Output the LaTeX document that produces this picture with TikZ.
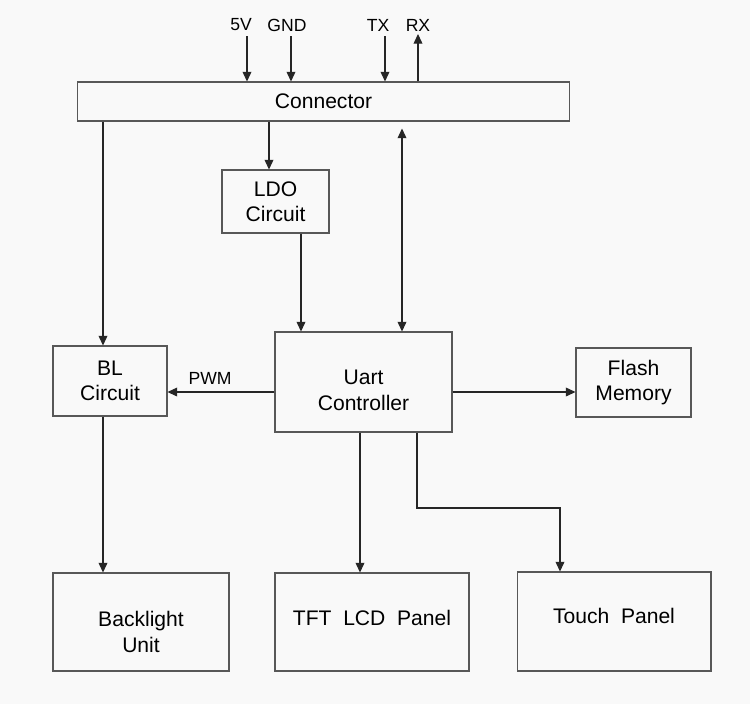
\documentclass[tikz,border=0pt]{standalone}
\usepackage{fontspec}
\setmainfont{Liberation Sans}
\usetikzlibrary{arrows.meta}
\definecolor{bg}{HTML}{F9F9F9}
\definecolor{edge}{HTML}{585858}
\begin{document}
\begin{tikzpicture}[x=0.02cm,y=-0.02cm,>={Triangle[length=5.5pt,width=5pt]},line width=0.6pt,
  font=\fontsize{12}{14.5}\selectfont,
  box/.style={draw=edge,align=center,inner sep=0pt},
  arr/.style={->,draw=black!85},
  lbl/.style={font=\fontsize{10}{12}\selectfont}]
  \fill[bg] (0,0) rectangle (750,704);
  \useasboundingbox (0,0) rectangle (750,704);

  % Bloecke
  \node[box,minimum width=9.86cm,minimum height=0.78cm] (conn) at (323.5,101.5) {Connector};
  \node[box,minimum width=2.14cm,minimum height=1.26cm] (ldo) at (275.5,201.5) {LDO\\Circuit};
  \node[box,minimum width=2.28cm,minimum height=1.40cm] (bl) at (110,381) {BL\\Circuit};
  \node[box,minimum width=3.54cm,minimum height=2.00cm,text height=32pt] (uart) at (363.5,382) {Uart\\Controller};
  \node[box,minimum width=2.30cm,minimum height=1.38cm] (flash) at (633.5,382.5) {Flash\\Memory};
  \node[box,minimum width=3.52cm,minimum height=1.96cm,text height=34.5pt] (backlight) at (141,622) {Backlight\\Unit};
  \node[box,minimum width=3.88cm,minimum height=1.96cm,text depth=4.5pt] (tft) at (372,622) {TFT~~LCD~~Panel};
  \node[box,minimum width=3.88cm,minimum height=1.98cm,text depth=6.5pt] (touch) at (614,621.5) {Touch~~Panel};

  % Anschluesse oben
  \node[lbl] (v5) at (241,25) {5V};
  \node[lbl] (gnd) at (287,25) {GND};
  \node[lbl] (tx) at (378,25) {TX};
  \node[lbl] (rx) at (418,25) {RX};
  \coordinate (p5v) at (247,36);
  \coordinate (pgnd) at (291,36);
  \coordinate (ptx) at (385,36);
  \coordinate (prx) at (418,34);

  % Hilfspunkte fuer die Leitungen
  \coordinate (pbl) at (103,0);
  \coordinate (pldo) at (269,0);
  \coordinate (pvcc) at (301,0);
  \coordinate (pdata) at (402,0);
  \coordinate (ppwm) at (0,392);
  \coordinate (ptft) at (360,0);
  \coordinate (pbend) at (417,508);
  \coordinate (ptouch) at (560,0);

  % Pfeile
  \draw[arr] (p5v) -- (p5v |- conn.north);
  \draw[arr] (pgnd) -- (pgnd |- conn.north);
  \draw[arr] (ptx) -- (ptx |- conn.north);
  \draw[arr] (prx |- conn.north) -- (prx);
  \draw[arr] (pbl |- conn.south) -- (pbl |- bl.north);
  \draw[arr] (pldo |- conn.south) -- (pldo |- ldo.north);
  \draw[arr] (pvcc |- ldo.south) -- (pvcc |- uart.north);
  \draw[arr,<->,shorten <=0.14cm] (pdata |- conn.south) -- (pdata |- uart.north);
  \draw[arr] (uart.west |- ppwm) -- (bl.east |- ppwm);
  \node[lbl] (pwm) at (210,378) {PWM};
  \draw[arr] (uart.east |- ppwm) -- (flash.west |- ppwm);
  \draw[arr] (pbl |- bl.south) -- (pbl |- backlight.north);
  \draw[arr] (ptft |- uart.south) -- (ptft |- tft.north);
  \draw[arr] (pbend |- uart.south) -- (pbend) -| (ptouch |- touch.north);
\end{tikzpicture}
\end{document}
